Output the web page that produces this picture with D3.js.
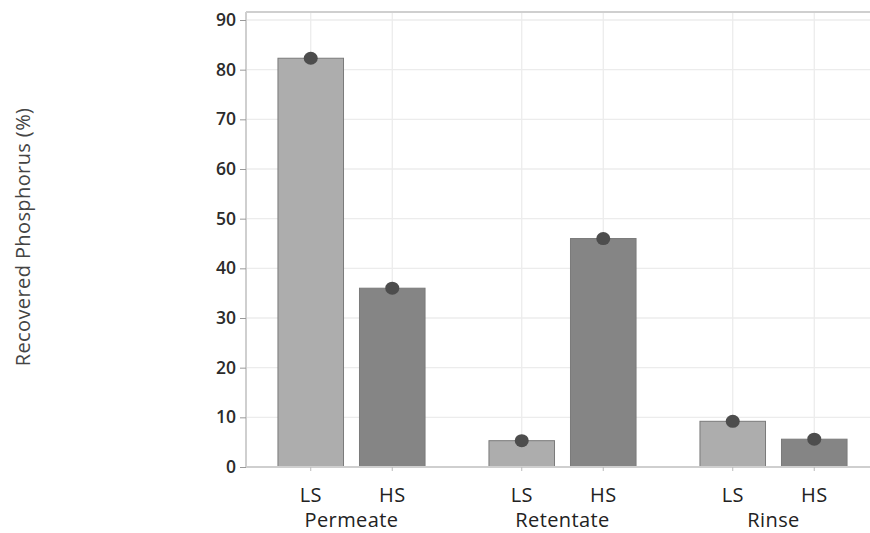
<!DOCTYPE html>
<html><head><meta charset="utf-8">
<script src="https://cdn.jsdelivr.net/npm/d3@7"></script>
<style>body{margin:0;background:#fff}</style>
</head><body>
<svg id="c" width="870" height="533"></svg>
<script>
const groups = ["Permeate", "Retentate", "Rinse"];
const subgroups = ["LS", "HS"];
const valuesLS = [82.3, 5.3, 9.2];
const valuesHS = [36.0, 46.0, 5.6];
const yTicks = [0, 10, 20, 30, 40, 50, 60, 70, 80, 90];

const data = [];
groups.forEach((g, i) => {
  data.push({group: g, sub: "LS", value: valuesLS[i]});
  data.push({group: g, sub: "HS", value: valuesHS[i]});
});

const svg = d3.select("#c");
const pL = 246, pR = 870, pT = 12, pB = 467;
const font = "'Open Sans', 'Noto Sans', sans-serif";

const y = d3.scaleLinear().domain([0, 90]).range([467, 20]);
const x0 = d3.scaleBand().domain(groups).range([246, 879]).padding(0);
const x1 = d3.scaleBand().domain(subgroups).range([0, x0.bandwidth()])
  .paddingInner(0.196).paddingOuter(0.392);
const fill = {LS: "#adadad", HS: "#858585"};
const cx = d => x0(d.group) + x1(d.sub) + x1.bandwidth() / 2;

// gridlines
const g = svg.append("g");
g.selectAll("line.h").data(yTicks.filter(d => d > 0)).join("line")
  .attr("x1", pL).attr("x2", pR)
  .attr("y1", d => y(d)).attr("y2", d => y(d))
  .attr("stroke", "#ececec").attr("stroke-width", 1.3);
g.selectAll("line.v").data(data).join("line")
  .attr("x1", cx).attr("x2", cx)
  .attr("y1", pT).attr("y2", pB)
  .attr("stroke", "#ececec").attr("stroke-width", 1.3);

// frame top
svg.append("line").attr("x1", pL).attr("x2", pR).attr("y1", pT).attr("y2", pT)
  .attr("stroke", "#cfcfcf").attr("stroke-width", 2);

// bars
svg.append("g").selectAll("rect").data(data).join("rect")
  .attr("x", d => x0(d.group) + x1(d.sub))
  .attr("width", x1.bandwidth())
  .attr("y", d => y(d.value))
  .attr("height", d => y(0) - y(d.value))
  .attr("fill", d => fill[d.sub])
  .attr("stroke", "#7a7a7a").attr("stroke-width", 1);

// points
svg.append("g").selectAll("ellipse").data(data).join("ellipse")
  .attr("cx", cx)
  .attr("cy", d => y(d.value))
  .attr("rx", 7).attr("ry", 6.5)
  .attr("fill", "#4d4d4d");

// y axis
const ya = svg.append("g").attr("transform", `translate(${pL},0)`)
  .call(d3.axisLeft(y).tickValues(yTicks).tickSize(6).tickPadding(4));
ya.select(".domain").attr("stroke", "#cfcfcf").attr("stroke-width", 2)
  .attr("d", `M0,${pT}V${pB}`);
ya.selectAll(".tick line").attr("stroke", "#999");
ya.selectAll("text").attr("font-family", font).attr("font-size", 17.5)
  .attr("font-weight", 600).attr("fill", "#2b2b2b");

// x axis baseline
svg.append("line").attr("x1", pL).attr("x2", pR).attr("y1", pB).attr("y2", pB)
  .attr("stroke", "#cfcfcf").attr("stroke-width", 2);
svg.append("g").selectAll("line").data(data).join("line")
  .attr("x1", cx).attr("x2", cx)
  .attr("y1", pB).attr("y2", pB + 4).attr("stroke", "#bbb");

// sub labels
svg.append("g").selectAll("text").data(data).join("text")
  .attr("x", cx)
  .attr("y", 502)
  .attr("text-anchor", "middle")
  .attr("font-family", font).attr("font-size", 20).attr("fill", "#222")
  .attr("letter-spacing", 0.3)
  .text(d => d.sub);

// group labels
svg.append("g").selectAll("text").data(groups).join("text")
  .attr("x", d => x0(d) + x0.bandwidth() / 2)
  .attr("y", 527)
  .attr("text-anchor", "middle")
  .attr("font-family", font).attr("font-size", 20).attr("fill", "#222")
  .attr("letter-spacing", 0.4)
  .text(d => d);

// y label
svg.append("text")
  .attr("transform", "translate(30,237) rotate(-90)")
  .attr("text-anchor", "middle")
  .attr("font-family", font).attr("font-size", 20).attr("fill", "#444")
  .attr("letter-spacing", 0.4)
  .text("Recovered Phosphorus (%)");
</script>
</body></html>
